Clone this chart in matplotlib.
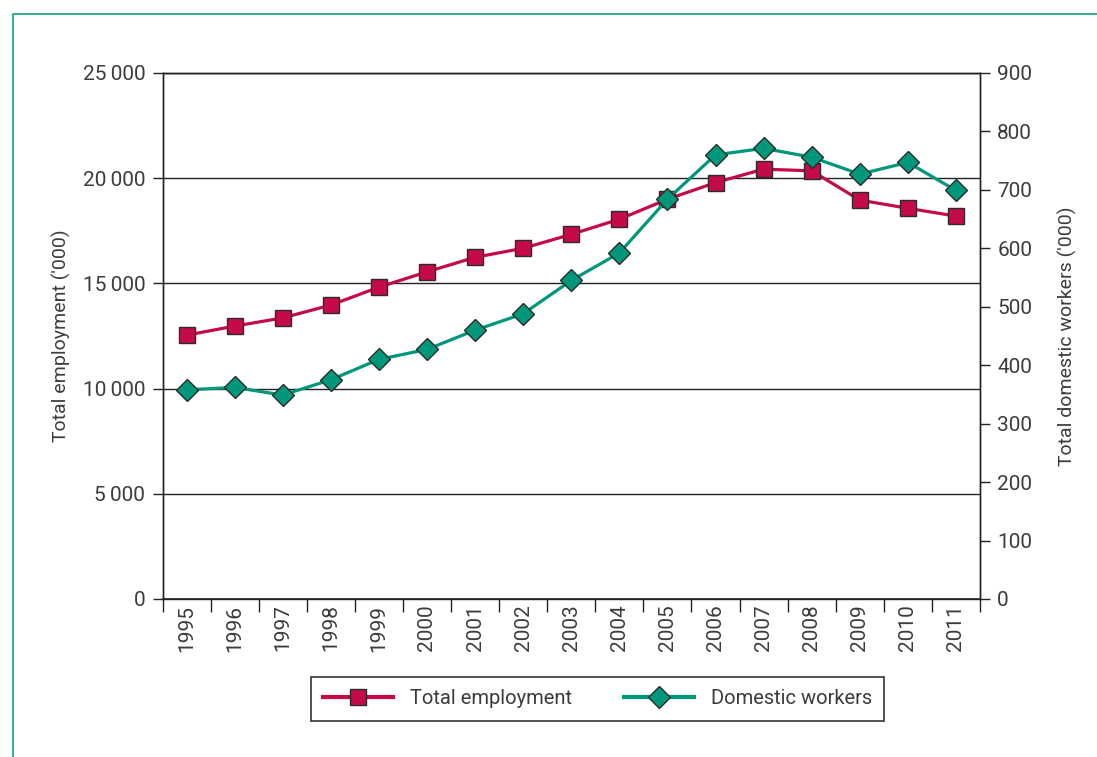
import matplotlib
matplotlib.use("Agg")
import matplotlib.pyplot as plt
from matplotlib.lines import Line2D
from matplotlib.ticker import FixedLocator, FuncFormatter
import numpy as np

years = ["1995", "1996", "1997", "1998", "1999", "2000", "2001", "2002", "2003",
         "2004", "2005", "2006", "2007", "2008", "2009", "2010", "2011"]
total_employment = [12540, 12970, 13360, 13970, 14820, 15550, 16240, 16670, 17330,
                    18050, 19000, 19790, 20430, 20350, 18960, 18570, 18200]
domestic_workers = [358, 362, 349, 375, 410, 427, 460, 488, 545,
                    592, 684, 760, 771, 756, 727, 747, 699]

left_ticks = [0, 5000, 10000, 15000, 20000, 25000]
right_ticks = [0, 100, 200, 300, 400, 500, 600, 700, 800, 900]

RED = "#C40A4B"
TEAL = "#00977A"
EDGE = "#2b2b2b"
TXT = "#3c3c3c"
FONT = ["Roboto", "DejaVu Sans"]

plt.rcParams["font.family"] = FONT
plt.rcParams["font.weight"] = "normal"

fig = plt.figure(figsize=(10.97, 7.57), dpi=100)
ax = fig.add_axes([162.5 / 1097, 1 - 599 / 757, (980 - 162.5) / 1097, (599 - 73) / 757])
ax2 = ax.twinx()

x = np.arange(len(years))

ax.set_xlim(-0.5, len(years) - 0.5)
ax.set_ylim(0, 25000)
ax2.set_ylim(0, 900)

for v in left_ticks[1:]:
    ax.axhline(v, color="#222222", lw=1.0, zorder=1)

ax.plot(x, total_employment, color=RED, lw=2.3, marker="s", markersize=11,
        markerfacecolor=RED, markeredgecolor=EDGE, markeredgewidth=1.0, zorder=3)
ax2.plot(x, domestic_workers, color=TEAL, lw=2.3, marker="D", markersize=11.5,
         markerfacecolor=TEAL, markeredgecolor=EDGE, markeredgewidth=1.0, zorder=3)

for a in (ax, ax2):
    for s in a.spines.values():
        s.set_color("#222222")
        s.set_linewidth(1.0)
ax.spines["bottom"].set_linewidth(1.2)

ax.yaxis.set_major_locator(FixedLocator(left_ticks))
ax.yaxis.set_major_formatter(FuncFormatter(lambda v, p: "0" if v == 0 else f"{int(v):,}".replace(",", "\u2009")))
ax.tick_params(axis="y", direction="out", length=7.5, width=1.0, color="#222222",
               labelsize=15, labelcolor=TXT, pad=5)
ax2.yaxis.set_major_locator(FixedLocator(right_ticks))
ax2.tick_params(axis="y", direction="out", length=7.5, width=1.0, color="#222222",
                labelsize=15, labelcolor=TXT, pad=5)

ax.set_xticks(x)
ax.set_xticklabels(years, rotation=90)
ax.tick_params(axis="x", which="major", length=0, labelsize=15, labelcolor=TXT, pad=4)
ax.xaxis.set_minor_locator(FixedLocator(np.arange(-0.5, len(years), 1.0)))
ax.tick_params(axis="x", which="minor", direction="out", length=9.5, width=1.0, color="#222222")

ax.set_ylabel("Total employment ('000)", fontsize=14, color=TXT, labelpad=8)
ax2.set_ylabel("Total domestic workers ('000)", fontsize=14, color=TXT, labelpad=18)

handles = [
    Line2D([], [], color=RED, lw=3, marker="s", markersize=11, markerfacecolor=RED,
           markeredgecolor=EDGE, markeredgewidth=1.0),
    Line2D([], [], color=TEAL, lw=3, marker="D", markersize=11.5, markerfacecolor=TEAL,
           markeredgecolor=EDGE, markeredgewidth=1.0),
]
leg = fig.legend(handles, ["Total employment", "Domestic workers"], loc="center",
                 bbox_to_anchor=(597.5 / 1097, 1 - 699 / 757), ncol=2, frameon=True,
                 fancybox=False, edgecolor="#333333", framealpha=1, fontsize=14.5,
                 handlelength=3.45, columnspacing=2.6, handletextpad=0.85,
                 borderpad=0.6, labelcolor=TXT)
leg.get_frame().set_linewidth(1.2)

fig.add_artist(Line2D([13 / 1097, 13 / 1097, 1.0], [0.0, 1 - 14 / 757, 1 - 14 / 757],
                      transform=fig.transFigure, color="#1AA88A", lw=1.3))

fig.savefig("out.png", dpi=100)
